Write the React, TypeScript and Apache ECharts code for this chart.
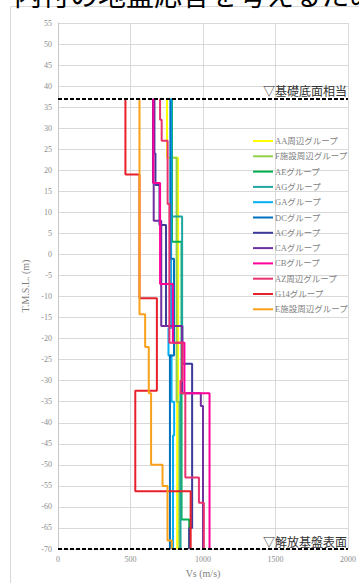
import React, { useEffect, useRef } from 'react';
import * as echarts from 'echarts';

const BOTTOM_LEVEL = -70;
const BASE_LEVEL = 37;

const GROUP_NAMES = [
  'AA周辺グループ',
  'F施設周辺グループ',
  'AEグループ',
  'AGグループ',
  'GAグループ',
  'DCグループ',
  'ACグループ',
  'CAグループ',
  'CBグループ',
  'AZ周辺グループ',
  'G14グループ',
  'E施設周辺グループ',
];
const GROUP_COLORS = [
  '#FFFF00', '#92D050', '#00B050', '#1FA79E', '#00B0F0', '#0070C0',
  '#3D3A99', '#7030A0', '#FF0099', '#E8336E', '#E8202A', '#F9A11B',
];

// layer top elevations (m) and Vs (m/s) per group; last layer ends at BOTTOM_LEVEL
const AA_TOP = [37, 23, -35];
const AA_VS = [752, 828, 822];
const F_TOP = [37, 23, -35];
const F_VS = [786, 818, 836];
const AE_TOP = [37, 3, -63];
const AE_VS = [786, 852, 905];
const AG_TOP = [37, 9, -33];
const AG_VS = [783, 856, 845];
const GA_TOP = [37, -17.5, -24, -35, -43];
const GA_VS = [780, 762, 783, 801, 793];
const DC_TOP = [37, -1, -24];
const DC_VS = [775, 800, 772];
const AC_TOP = [37, 24, 16.5, 7, -17, -26, -65];
const AC_VS = [665, 672, 700, 745, 858, 925, 905];
const CA_TOP = [37, 17, 8, -17, -33, -36];
const CA_VS = [655, 660, 712, 855, 985, 1000];
const CB_TOP = [37, 17, -7, -21, -33];
const CB_VS = [658, 704, 792, 872, 1045];
const AZ_TOP = [37, 32, 27, 12, -21, -30, -33, -53, -59];
const AZ_VS = [704, 715, 756, 768, 858, 845, 878, 972, 1006];
const G14_TOP = [37, 19, -10.4, -32.4, -56.3];
const G14_VS = [465, 562, 682, 533, 915];
const E_TOP = [37, -14.2, -22, -33, -50, -55, -68];
const E_VS = [562, 601, 626, 642, 721, 755, 785];

const PROFILES = [
  [AA_TOP, AA_VS], [F_TOP, F_VS], [AE_TOP, AE_VS], [AG_TOP, AG_VS],
  [GA_TOP, GA_VS], [DC_TOP, DC_VS], [AC_TOP, AC_VS], [CA_TOP, CA_VS],
  [CB_TOP, CB_VS], [AZ_TOP, AZ_VS], [G14_TOP, G14_VS], [E_TOP, E_VS],
];

const X_MIN = 0, X_MAX = 2000, X_STEP = 500;
const Y_MIN = -70, Y_MAX = 55, Y_STEP = 5;

function stepData(tops: number[], vs: number[]) {
  const pts: number[][] = [];
  for (let i = 0; i < tops.length; i++) {
    const bot = i + 1 < tops.length ? tops[i + 1] : BOTTOM_LEVEL;
    pts.push([vs[i], tops[i]]);
    pts.push([vs[i], bot]);
  }
  return pts;
}

const SERIF = "'Liberation Serif', 'Noto Sans CJK JP', serif";
const SANS = "'Noto Sans CJK JP', sans-serif";

export default function App() {
  const ref = useRef<HTMLDivElement>(null);
  useEffect(() => {
    if (!ref.current) return;
    const chart = echarts.init(ref.current, null, { renderer: 'svg' });
    const series: any[] = PROFILES.map((p, i) => ({
      name: GROUP_NAMES[i],
      type: 'line',
      data: stepData(p[0] as number[], p[1] as number[]),
      symbol: 'none',
      showSymbol: false,
      color: GROUP_COLORS[i],
      lineStyle: { width: 2, color: GROUP_COLORS[i] },
      z: 2 + i * 0.01,
    }));
    series.push({
      name: 'ref',
      type: 'line',
      data: [[X_MIN, BASE_LEVEL]],
      symbol: 'none',
      lineStyle: { opacity: 0 },
      z: 5,
      markLine: {
        silent: true,
        symbol: 'none',
        animation: false,
        lineStyle: { color: '#000', width: 2, type: [4, 2] },
        label: {
          position: 'insideEndTop',
          color: '#333',
          fontSize: 12,
          fontFamily: SANS,
          distance: [1, 2],
        },
        data: [
          { yAxis: BASE_LEVEL, label: { formatter: '▽基礎底面相当' } },
          { yAxis: BOTTOM_LEVEL, label: { formatter: '▽解放基盤表面' } },
        ],
      },
    });
    chart.setOption({
      animation: false,
      backgroundColor: '#fff',
      grid: { left: 58, top: 23, width: 293, height: 530, containLabel: false },
      xAxis: {
        type: 'value',
        min: X_MIN,
        max: X_MAX,
        interval: X_STEP,
        name: 'Vs (m/s)',
        nameLocation: 'middle',
        nameGap: 19,
        nameTextStyle: { color: '#7f7f7f', fontSize: 10, fontFamily: SERIF },
        axisLine: { show: false },
        axisTick: { show: false },
        axisLabel: {
          color: '#8c8c8c', fontSize: 8, fontFamily: SERIF, margin: 6,
          formatter: (v: number) => String(v),
        },
        splitLine: { show: true, lineStyle: { color: '#d9d9d9', width: 1 } },
      },
      yAxis: {
        type: 'value',
        min: Y_MIN,
        max: Y_MAX,
        interval: Y_STEP,
        name: 'T.M.S.L. (m)',
        nameLocation: 'middle',
        nameRotate: 90,
        nameGap: 27,
        nameTextStyle: { color: '#7f7f7f', fontSize: 10, fontFamily: SERIF },
        axisLine: { show: true, onZero: false, lineStyle: { color: '#c8c8c8', width: 1 } },
        axisTick: { show: false },
        axisLabel: {
          color: '#8c8c8c', fontSize: 8, fontFamily: SERIF, margin: 6,
          formatter: (v: number) => String(v),
        },
        splitLine: { show: true, lineStyle: { color: '#d9d9d9', width: 1 } },
      },
      legend: {
        data: GROUP_NAMES.map((n) => ({ name: n, icon: 'rect' })),
        orient: 'vertical',
        left: 248,
        top: 131,
        itemWidth: 20,
        itemHeight: 2,
        itemGap: 5.3,
        textStyle: {
          color: '#808080', fontSize: 8.5, lineHeight: 10, fontFamily: SERIF,
          padding: [0, 0, 0, -3],
        },
        selectedMode: false,
      },
      graphic: [
        {
          type: 'rect',
          silent: true,
          shape: { x: 10.5, y: 6.5, width: 400, height: 600 },
          style: { fill: 'none', stroke: '#d9d9d9', lineWidth: 1 },
          z: -10,
        },
        {
          type: 'text',
          silent: true,
          x: 14,
          y: 8,
          style: {
            text: '内付の地盤応答を考えるため',
            fontSize: 28,
            fontFamily: SANS,
            fill: '#000',
            verticalAlign: 'bottom',
            textVerticalAlign: 'bottom',
          },
        },
      ],
      series,
    });
    return () => chart.dispose();
  }, []);
  return (
    <div
      ref={ref}
      style={{ position: 'absolute', left: 0, top: 0, width: 359, height: 583 }}
    />
  );
}
